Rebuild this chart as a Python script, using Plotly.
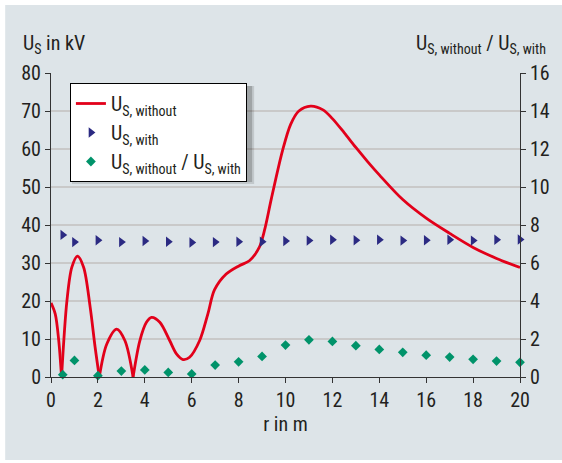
import plotly.graph_objects as go

# ---- data ----
# U_S, without (kV) along r (m); None separates the lobes between the sharp zeros
r_without = [0, 0.18, 0.33, 0.45, None,
             0.45, 0.68, 0.89, 1.13, 1.39, 1.67, 1.88, 2.06, None,
             2.06, 2.38, 2.8, 3.15, 3.5, None,
             3.5, 3.79, 4.07, 4.29, 4.64, 5.06, 5.35, 5.63, 5.91, 6.34, 6.69, 6.97,
             7.47, 8.03, 8.46, 8.88, 9.1, 9.4, 9.87, 10.22, 10.57, 11.07, 11.6,
             12.0, 12.5, 13.0, 13.5, 14.0, 15.0, 16.0, 17.0, 18.0, 19.0, 20.0]
u_without = [19.5, 16.6, 9.6, 0, None,
             0, 20.1, 28.9, 31.8, 28.9, 18.4, 7.9, 0, None,
             0, 8.7, 12.6, 9.6, 0, None,
             0, 9.6, 14.4, 15.7, 14.4, 9.6, 6.1, 4.6, 5.2, 9.6, 16.6, 22.9,
             27.1, 29.3, 30.6, 34.1, 38.5, 47.0, 59.5, 66.5, 70.0, 71.3, 70.3,
             68.0, 64.3, 60.4, 56.7, 53.2, 46.7, 41.8, 37.8, 34.1, 31.2, 28.8]

r_points = [0.5, 1, 2, 3, 4, 5, 6, 7, 8, 9, 10, 11, 12, 13, 14, 15, 16, 17, 18, 19, 20]
u_with = [37.4, 35.5, 36.0, 35.5, 35.8, 35.6, 35.4, 35.5, 35.6, 35.6, 35.8,
          35.9, 36.1, 36.0, 36.1, 35.9, 36.0, 36.1, 35.9, 36.1, 36.2]
ratio = [0.12, 0.87, 0.07, 0.31, 0.37, 0.24, 0.16, 0.63, 0.80, 1.08, 1.68,
         1.96, 1.87, 1.65, 1.45, 1.30, 1.15, 1.05, 0.93, 0.84, 0.77]

x_ticks = [0, 2, 4, 6, 8, 10, 12, 14, 16, 18, 20]
y_ticks = [0, 10, 20, 30, 40, 50, 60, 70, 80]
y2_ticks = [0, 2, 4, 6, 8, 10, 12, 14, 16]

FONT = "Liberation Sans Narrow, Roboto Condensed, Arial Narrow, sans-serif"
TXT = "#231f20"
RED = "#e2001a"
NAVY = "#2b2a82"
GREEN = "#00936a"
BG = "#dde4e8"

fig = go.Figure()
fig.add_trace(go.Scatter(
    x=r_without, y=u_without, mode="lines", name="U<sub>S, without</sub>",
    line=dict(color=RED, width=2.8, shape="spline", smoothing=0.9),
    connectgaps=False, cliponaxis=False))
fig.add_trace(go.Scatter(
    x=r_points, y=u_with, mode="markers", name="U<sub>S, with</sub>",
    marker=dict(symbol="triangle-right", color=NAVY, size=9), cliponaxis=False))
fig.add_trace(go.Scatter(
    x=r_points, y=ratio, mode="markers", yaxis="y2",
    name="U<sub>S, without</sub> / U<sub>S, with</sub>",
    marker=dict(symbol="diamond", color=GREEN, size=7.5), cliponaxis=False))

W, H = 562, 463
L, R, T, B = 51, 40, 73, 86
pw, ph = W - L - R, H - T - B

def px2paper_x(px):
    return (px - L) / pw

def py2paper_y(py):
    return (H - B - py) / ph

shapes = [
    # grey panel behind everything
    dict(type="rect", xref="paper", yref="paper", layer="below",
         x0=px2paper_x(5), x1=px2paper_x(570), y0=py2paper_y(460), y1=py2paper_y(5),
         fillcolor=BG, line=dict(width=0)),
    # legend shadow (soft)
    dict(type="rect", xref="paper", yref="paper", layer="above",
         x0=px2paper_x(72), x1=px2paper_x(255), y0=py2paper_y(184), y1=py2paper_y(86),
         fillcolor="rgba(0,0,0,0.12)", line=dict(width=0)),
    dict(type="rect", xref="paper", yref="paper", layer="above",
         x0=px2paper_x(72), x1=px2paper_x(253), y0=py2paper_y(182), y1=py2paper_y(86),
         fillcolor="rgba(0,0,0,0.18)", line=dict(width=0)),
]

fig.update_layout(
    width=W, height=H,
    margin=dict(l=L, r=R, t=T, b=B, pad=0),
    paper_bgcolor="white", plot_bgcolor="white",
    font=dict(family=FONT, size=20, color=TXT),
    showlegend=True,
    legend=dict(x=px2paper_x(70), y=py2paper_y(83), xanchor="left", yanchor="top",
                bgcolor="white", bordercolor="black", borderwidth=1,
                font=dict(family=FONT, size=20, color=TXT),
                tracegroupgap=0, itemwidth=30),
    xaxis=dict(range=[0, 20], tickvals=x_ticks, showgrid=False, zeroline=False,
               showline=True, linecolor="#333", linewidth=1,
               ticks="outside", ticklen=5, tickcolor="#333",
               title=dict(text="r in m", font=dict(size=20), standoff=0)),
    yaxis=dict(range=[0, 80], tickvals=y_ticks, showgrid=True, gridcolor="#c9c9c9",
               gridwidth=1.5, zeroline=False, showline=True, linecolor="#333",
               linewidth=1, ticks="outside", ticklen=5, tickcolor="#333"),
    yaxis2=dict(range=[0, 16], tickvals=y2_ticks, overlaying="y", side="right",
                showgrid=False, zeroline=False, showline=True, linecolor="#333",
                linewidth=1, ticks="outside", ticklen=5, tickcolor="#333"),
    shapes=shapes,
    annotations=[
        dict(text="U<sub>S</sub> in kV", xref="paper", yref="paper",
             x=px2paper_x(21), y=py2paper_y(44), xanchor="left", yanchor="middle",
             showarrow=False, font=dict(size=20)),
        dict(text="U<sub>S, without</sub> / U<sub>S, with</sub>", xref="paper", yref="paper",
             x=px2paper_x(550), y=py2paper_y(44), xanchor="right", yanchor="middle",
             showarrow=False, font=dict(size=20)),
    ],
)

fig.write_html("out.html", config={"displayModeBar": False},
               post_script="document.body.style.margin='0px';")
